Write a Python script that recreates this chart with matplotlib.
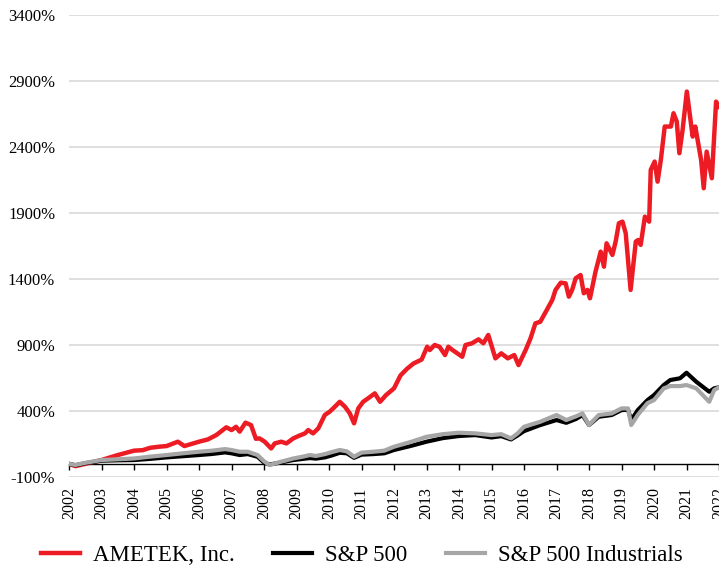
import matplotlib
matplotlib.use("Agg")
import matplotlib.pyplot as plt
import numpy as np

plt.rcParams['font.family'] = ['Liberation Serif', 'DejaVu Serif']

# cumulative total return (%)
ametek_t = [2002.0, 2002.2, 2002.5, 2003.0, 2003.5, 2004.0, 2004.27, 2004.5, 2004.77, 2005.0,
            2005.35, 2005.55, 2006.0, 2006.27, 2006.53, 2006.84, 2007.0, 2007.14, 2007.25, 2007.43,
            2007.6, 2007.75, 2007.86, 2008.02, 2008.22, 2008.33, 2008.53, 2008.69, 2008.9, 2009.05,
            2009.26, 2009.36, 2009.51, 2009.67, 2009.87, 2010.02, 2010.18, 2010.33, 2010.49, 2010.64,
            2010.77, 2010.9, 2011.05, 2011.2, 2011.41, 2011.57, 2011.75, 2012.0, 2012.2, 2012.4,
            2012.6, 2012.85, 2013.02, 2013.1, 2013.25, 2013.4, 2013.57, 2013.67, 2013.8, 2014.1,
            2014.2, 2014.4, 2014.6, 2014.75, 2014.9, 2015.12, 2015.3, 2015.5, 2015.7, 2015.83,
            2016.05, 2016.2, 2016.35, 2016.5, 2016.7, 2016.87, 2016.97, 2017.13, 2017.28, 2017.38,
            2017.48, 2017.59, 2017.74, 2017.84, 2017.95, 2018.03, 2018.2, 2018.36, 2018.46, 2018.54,
            2018.72, 2018.82, 2018.92, 2019.03, 2019.13, 2019.28, 2019.44, 2019.51, 2019.59, 2019.72,
            2019.85, 2019.9, 2020.02, 2020.11, 2020.21, 2020.33, 2020.52, 2020.6, 2020.7, 2020.78,
            2020.88, 2021.01, 2021.19, 2021.27, 2021.45, 2021.53, 2021.62, 2021.78, 2021.91, 2022.0]
ametek_v = [0, -17, 0, 29, 67, 100, 104, 122, 130, 135,
            168, 135, 168, 185, 218, 277, 256, 281, 244, 312,
            294, 190, 193, 168, 117, 155, 168, 155, 193, 210,
            231, 256, 231, 269, 370, 395, 433, 470, 433, 382,
            307, 420, 470, 496, 534, 470, 520, 572, 670, 720,
            760, 790, 887, 862, 900, 887, 824, 887, 862, 811,
            900, 913, 943, 913, 976, 799, 837, 799, 824, 748,
            862, 950, 1064, 1076, 1165, 1241, 1317, 1372, 1367, 1266,
            1317, 1405, 1430, 1292, 1317, 1254, 1455, 1607, 1493, 1670,
            1582, 1683, 1822, 1834, 1746, 1317, 1683, 1695, 1658, 1872,
            1834, 2226, 2289, 2137, 2301, 2554, 2554, 2655, 2592, 2352,
            2529, 2819, 2478, 2554, 2301, 2087, 2364, 2163, 2743, 2705]

index_t = [2002.0, 2002.2, 2002.5, 2003.0, 2003.5, 2004.0, 2004.5, 2005.0, 2005.5, 2006.0,
           2006.4, 2006.8, 2007.0, 2007.25, 2007.5, 2007.8, 2008.0, 2008.17, 2008.5, 2008.9,
           2009.2, 2009.41, 2009.6, 2009.87, 2010.1, 2010.33, 2010.55, 2010.77, 2011.0, 2011.36,
           2011.7, 2012.0, 2012.5, 2013.0, 2013.5, 2014.0, 2014.5, 2015.0, 2015.3, 2015.6,
           2015.8, 2016.0, 2016.5, 2017.0, 2017.3, 2017.6, 2017.8, 2018.0, 2018.3, 2018.7,
           2019.0, 2019.2, 2019.3, 2019.5, 2019.8, 2020.0, 2020.3, 2020.5, 2020.8, 2021.0,
           2021.3, 2021.5, 2021.7, 2021.85, 2022.0]
sp500_v = [0, -10, 5, 24, 27, 29, 38, 49, 58, 67,
           75, 87, 80, 67, 74, 54, 10, -5, 10, 29,
           38, 44, 40, 49, 65, 84, 80, 46, 70, 74,
           80, 105, 135, 168, 195, 211, 218, 200, 210, 185,
           215, 248, 294, 332, 311, 340, 370, 294, 357, 370,
           407, 410, 332, 407, 483, 521, 597, 635, 648, 690,
           622, 584, 546, 572, 580]
industrials_v = [0, -8, 8, 29, 35, 41, 55, 67, 80, 92,
                 100, 112, 105, 92, 92, 67, 20, -9, 15, 41,
                 55, 67, 60, 74, 90, 105, 95, 54, 85, 92,
                 100, 130, 165, 205, 225, 236, 231, 218, 225, 193,
                 230, 281, 319, 370, 332, 360, 382, 294, 370, 382,
                 420, 420, 294, 370, 460, 483, 572, 589, 589, 597,
                 572, 521, 470, 559, 580]

years = np.arange(2002, 2023)
y_ticks = np.arange(-100, 3401, 500)

fig = plt.figure(figsize=(7.19, 5.70), dpi=100)
ax = fig.add_axes([0.096, 0.163, 0.904, 0.811])

ax.plot(ametek_t, ametek_v, color='#ED1C24', lw=3.2, label='AMETEK, Inc.', solid_joinstyle='round')
ax.plot(index_t, sp500_v, color='black', lw=3.0, label='S&P 500', solid_joinstyle='round')
ax.plot(index_t, industrials_v, color='#A6A6A6', lw=3.0, label='S&P 500 Industrials', solid_joinstyle='round')

# x axis sits on the 0% line; set this before the tick labels (it resets ticks)
for s in ['top', 'right', 'left']:
    ax.spines[s].set_visible(False)
ax.spines['bottom'].set_position(('data', 0))
ax.spines['bottom'].set_linewidth(1.0)
ax.spines['bottom'].set_zorder(1.5)

ax.set_xlim(2002, 2022)
ax.set_ylim(-100, 3400)
ax.set_yticks(y_ticks)
ax.set_yticklabels([f'{v}%' for v in y_ticks], fontsize=12)
ax.set_xticks(years)
ax.set_xticklabels([str(y) for y in years], rotation=90, fontsize=11.5, va='top')

ax.grid(True, axis='y', color='#D9D9D9', lw=1.2)
ax.set_axisbelow(True)
ax.tick_params(axis='y', length=0, pad=10)
ax.tick_params(axis='x', length=4, width=1.0, direction='out', pad=13)

fig.legend(loc='lower center', bbox_to_anchor=(0.503, -0.03), ncol=3, frameon=False,
           fontsize=16.5, handlelength=1.7, handletextpad=0.55, columnspacing=1.7)

fig.savefig('out.png', dpi=100)
